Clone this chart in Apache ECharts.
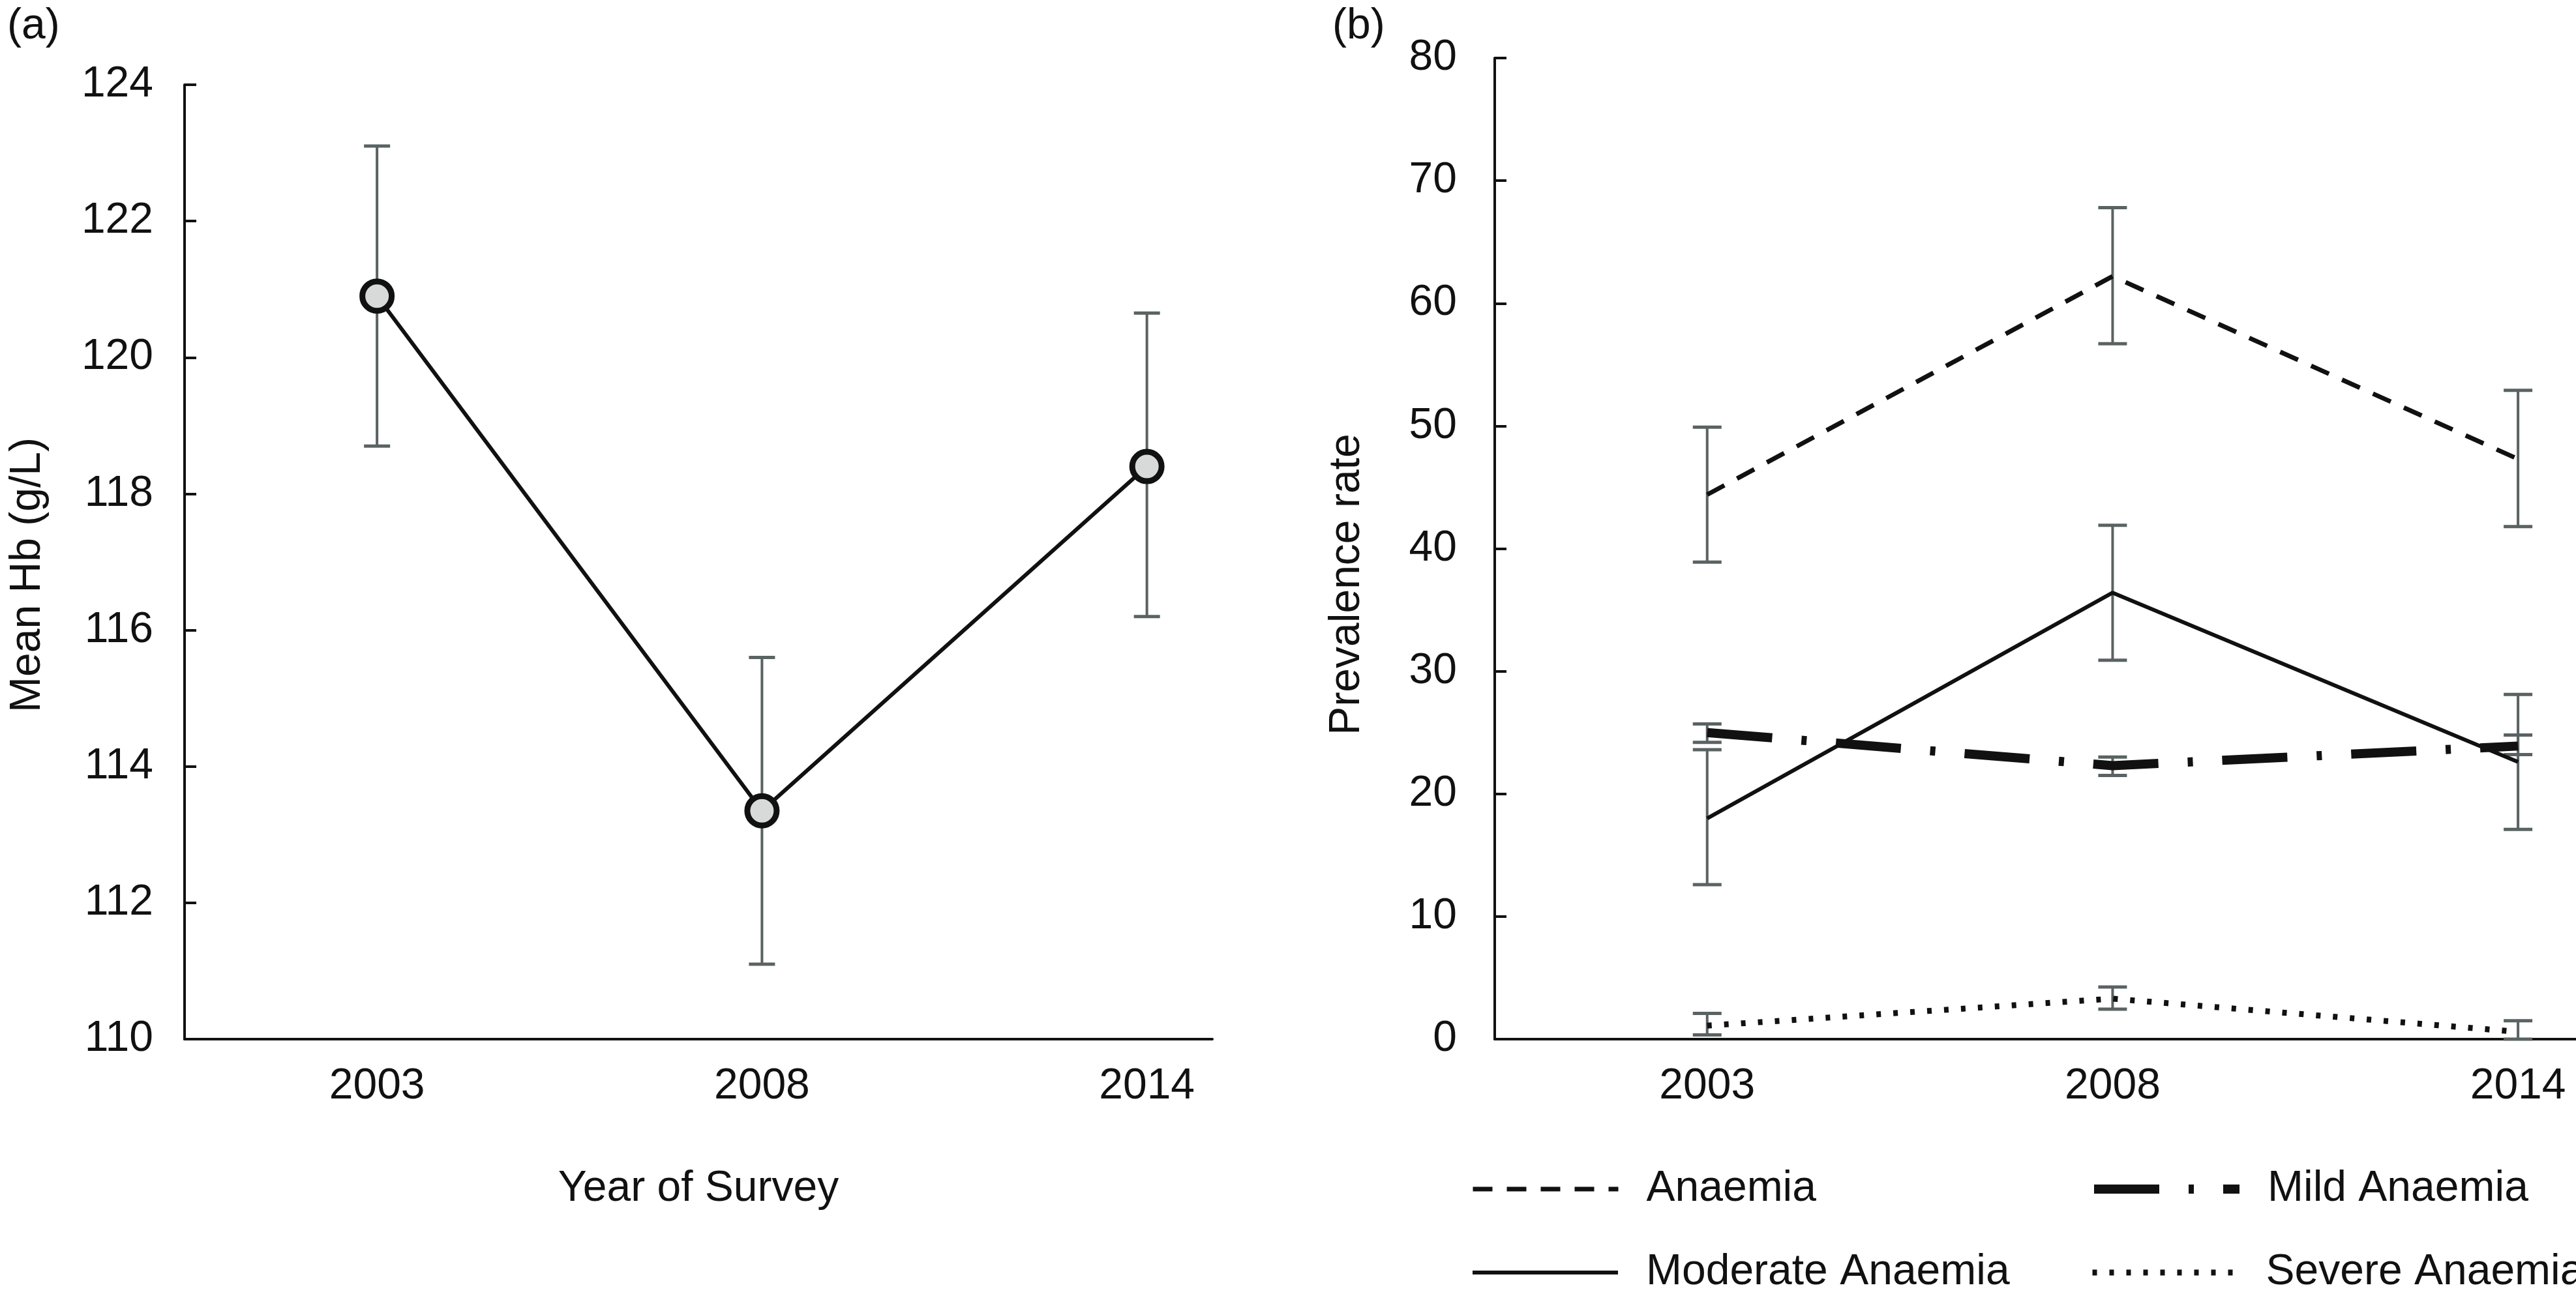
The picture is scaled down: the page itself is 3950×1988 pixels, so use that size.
<!DOCTYPE html>
<html>
<head>
<meta charset="utf-8">
<script src="https://cdn.jsdelivr.net/npm/echarts@6.0.0/dist/echarts.min.js"></script>
<style>
html,body{margin:0;padding:0;background:#fff;}
#chart{width:3950px;height:1988px;}
</style>
</head>
<body>
<div id="chart"></div>
<script>
// ---- data ----
const years = ['2003', '2008', '2014'];
// panel (a): mean Hb (g/L) with error bars
const hbMean = [120.9, 113.35, 118.4];
const hbLow  = [118.7, 111.1, 116.2];
const hbHigh = [123.1, 115.6, 120.65];
// panel (b): prevalence rates
const anaemia     = [44.4, 62.2, 47.3];
const anaemiaLow  = [38.9, 56.7, 41.8];
const anaemiaHigh = [49.9, 67.8, 52.9];
const moderate     = [18.0, 36.4, 22.6];
const moderateLow  = [12.6, 30.9, 17.1];
const moderateHigh = [23.6, 41.9, 28.1];
const mild     = [25.0, 22.3, 23.9];
const mildLow  = [24.2, 21.5, 23.2];
const mildHigh = [25.7, 23.0, 24.8];
const severe     = [1.1, 3.3, 0.6];
const severeLow  = [0.35, 2.45, 0.0];
const severeHigh = [2.1, 4.25, 1.5];
const leftTicks = [110, 112, 114, 116, 118, 120, 122, 124];
const rightTicks = [0, 10, 20, 30, 40, 50, 60, 70, 80];

// ---- helpers ----
const FONT = "'Liberation Sans', Arial, sans-serif";
const INK = '#111111';
const ERR = '#5a6262';
const pts = arr => arr.map((v, i) => [i, v]);
const errData = (lo, hi) => lo.map((v, i) => [i, v, hi[i]]);
function errRender(capHalf) {
  return function (params, api) {
    const x = api.value(0);
    const pLo = api.coord([x, api.value(1)]);
    const pHi = api.coord([x, api.value(2)]);
    const st = { stroke: ERR, lineWidth: 4 };
    return {
      type: 'group',
      children: [
        { type: 'line', shape: { x1: pLo[0], y1: pLo[1], x2: pHi[0], y2: pHi[1] }, style: st },
        { type: 'line', shape: { x1: pHi[0] - capHalf, y1: pHi[1], x2: pHi[0] + capHalf, y2: pHi[1] }, style: { stroke: ERR, lineWidth: 5 } },
        { type: 'line', shape: { x1: pLo[0] - capHalf, y1: pLo[1], x2: pLo[0] + capHalf, y2: pLo[1] }, style: { stroke: ERR, lineWidth: 5 } }
      ]
    };
  };
}
const axisText = { fontSize: 66, color: INK, fontFamily: FONT };

const styles = {
  Anaemia:   { color: INK, width: 7, type: [30, 22], cap: 'butt' },
  Mild:      { color: INK, width: 14, type: [100, 45, 8, 45], cap: 'butt' },
  Moderate:  { color: INK, width: 6, type: 'solid' },
  Severe:    { color: INK, width: 9, type: [7, 19], cap: 'butt' }
};

function xAxisCfg(gridIndex, min, max, name) {
  return {
    type: 'value', gridIndex, min, max,
    axisLine: { show: true, onZero: false, lineStyle: { color: INK, width: 4 } },
    axisTick: { show: false },
    splitLine: { show: false },
    axisLabel: {
      customValues: [0, 1, 2],
      formatter: v => years[Math.round(v)],
      margin: 40, ...axisText
    },
    name: name || '',
    nameLocation: 'middle',
    nameGap: 197,
    nameTextStyle: axisText
  };
}
function yAxisCfg(gridIndex, ticks, interval, labelMargin, name, nameGap, namePad) {
  return {
    type: 'value', gridIndex,
    min: ticks[0], max: ticks[ticks.length - 1], interval,
    axisLine: { show: true, onZero: false, lineStyle: { color: INK, width: 4 } },
    axisTick: { show: true, inside: true, length: 18, lineStyle: { color: INK, width: 4 } },
    splitLine: { show: false },
    axisLabel: { margin: labelMargin, ...axisText },
    name, nameLocation: 'middle', nameGap,
    nameTextStyle: { ...axisText, padding: namePad }
  };
}
function legendCfg(name, left, top, ls) {
  return {
    data: [name], left, top,
    orient: 'horizontal',
    itemWidth: 223, itemHeight: 24,
    itemStyle: { opacity: 0 },
    lineStyle: { color: ls.color, width: ls.width, type: ls.type, cap: ls.cap || 'butt' },
    textStyle: { fontSize: 66, color: INK, fontFamily: FONT, padding: [0, 0, 0, 38] },
    selectedMode: false
  };
}

const chart = echarts.init(document.getElementById('chart'), null, { renderer: 'canvas' });
chart.setOption({
  backgroundColor: '#ffffff',
  animation: false,
  textStyle: { fontFamily: FONT },
  title: [
    { text: '(a)', left: 6, top: 3, padding: 5, textStyle: { fontSize: 66, fontWeight: 'normal', color: INK, fontFamily: FONT } },
    { text: '(b)', left: 2038, top: 3, padding: 5, textStyle: { fontSize: 66, fontWeight: 'normal', color: INK, fontFamily: FONT } }
  ],
  grid: [
    { left: 283, top: 130, width: 1576, height: 1464 },
    { left: 2292, top: 89, width: 1658, height: 1505 }
  ],
  xAxis: [
    xAxisCfg(0, -0.5, 2.17, 'Year of Survey'),
    xAxisCfg(1, -0.524, 2.143, '')
  ],
  yAxis: [
    yAxisCfg(0, leftTicks, 2, 48, 'Mean Hb (g/L)', 207, [0, 40, 0, 0]),
    yAxisCfg(1, rightTicks, 10, 58, 'Prevalence rate', 193, [0, 110, 0, 0])
  ],
  legend: [
    legendCfg('Anaemia', 2250, 1786, styles.Anaemia),
    legendCfg('Mild Anaemia', 3199, 1786, styles.Mild),
    legendCfg('Moderate Anaemia', 2250, 1914, styles.Moderate),
    legendCfg('Severe Anaemia', 3199, 1914, styles.Severe)
  ],
  series: [
    // panel (a)
    { type: 'custom', xAxisIndex: 0, yAxisIndex: 0, z: 1, renderItem: errRender(20), data: errData(hbLow, hbHigh) },
    {
      type: 'line', name: 'Mean Hb', xAxisIndex: 0, yAxisIndex: 0, z: 3,
      data: pts(hbMean), symbol: 'circle', symbolSize: 45,
      lineStyle: { color: INK, width: 6 },
      itemStyle: { color: '#d8dada', borderColor: INK, borderWidth: 9 }
    },
    // panel (b) error bars
    { type: 'custom', xAxisIndex: 1, yAxisIndex: 1, z: 1, renderItem: errRender(22), data: errData(anaemiaLow, anaemiaHigh) },
    { type: 'custom', xAxisIndex: 1, yAxisIndex: 1, z: 1, renderItem: errRender(22), data: errData(moderateLow, moderateHigh) },
    { type: 'custom', xAxisIndex: 1, yAxisIndex: 1, z: 1, renderItem: errRender(22), data: errData(mildLow, mildHigh) },
    { type: 'custom', xAxisIndex: 1, yAxisIndex: 1, z: 1, renderItem: errRender(22), data: errData(severeLow, severeHigh) },
    // panel (b) lines
    { type: 'line', name: 'Anaemia', xAxisIndex: 1, yAxisIndex: 1, z: 3, symbol: 'none', data: pts(anaemia), lineStyle: styles.Anaemia, itemStyle: { color: INK } },
    { type: 'line', name: 'Mild Anaemia', xAxisIndex: 1, yAxisIndex: 1, z: 3, symbol: 'none', data: pts(mild), lineStyle: styles.Mild, itemStyle: { color: INK } },
    { type: 'line', name: 'Moderate Anaemia', xAxisIndex: 1, yAxisIndex: 1, z: 3, symbol: 'none', data: pts(moderate), lineStyle: styles.Moderate, itemStyle: { color: INK } },
    { type: 'line', name: 'Severe Anaemia', xAxisIndex: 1, yAxisIndex: 1, z: 3, symbol: 'none', data: pts(severe), lineStyle: styles.Severe, itemStyle: { color: INK } }
  ]
});
</script>
</body>
</html>
